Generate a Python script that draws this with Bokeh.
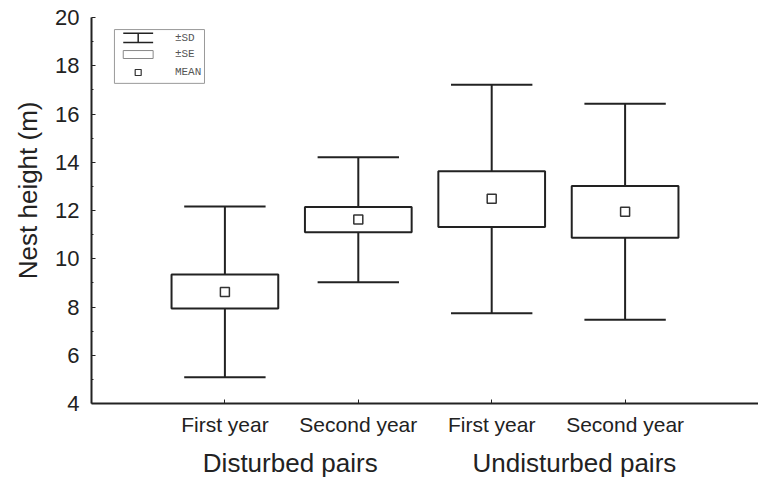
from bokeh.plotting import figure
from bokeh.models import Range1d, FixedTicker, LinearAxis, ColumnDataSource, Title
from bokeh.core.properties import value
from bokeh.embed import file_html
from bokeh.resources import INLINE

# ---- data ----
categories = ["First year", "Second year", "First year", "Second year"]
groups = ["Disturbed pairs", "Undisturbed pairs"]
mean = [8.62, 11.63, 12.49, 11.95]
se_low = [7.94, 11.10, 11.32, 10.87]
se_high = [9.35, 12.15, 13.63, 13.02]
sd_low = [5.09, 9.03, 7.74, 7.47]
sd_high = [12.17, 14.21, 17.21, 16.43]
y_major = [4, 6, 8, 10, 12, 14, 16, 18, 20]
y_minor = [5, 7, 9, 11, 13, 15, 17, 19]
legend_texts = ["\u00b1SD", "\u00b1SE", "MEAN"]

# ---- layout constants ----
BOX_W = 0.80
CAP_W = 0.61
INK = "#222222"
FONT = "Liberation Sans"

xs = [i + 1 for i in range(len(categories))]

p = figure(width=758, height=480, output_backend="svg", toolbar_location=None,
           x_range=Range1d(0, 5), y_range=Range1d(4, 20),
           min_border_left=91, min_border_right=0, min_border_top=17, min_border_bottom=76)
p.outline_line_color = None
p.xgrid.visible = False
p.ygrid.visible = False
p.background_fill_color = "white"
p.border_fill_color = "white"

src = ColumnDataSource(dict(
    x=xs, mean=mean, se_low=se_low, se_high=se_high, sd_low=sd_low, sd_high=sd_high,
    left=[x - BOX_W / 2 for x in xs], right=[x + BOX_W / 2 for x in xs],
    c0=[x - CAP_W / 2 for x in xs], c1=[x + CAP_W / 2 for x in xs],
))

# whiskers (±SD)
p.segment(x0="x", y0="sd_low", x1="x", y1="sd_high", source=src, line_color=INK, line_width=2)
p.segment(x0="c0", y0="sd_high", x1="c1", y1="sd_high", source=src, line_color=INK, line_width=2)
p.segment(x0="c0", y0="sd_low", x1="c1", y1="sd_low", source=src, line_color=INK, line_width=2)
# boxes (±SE)
p.quad(left="left", right="right", bottom="se_low", top="se_high", source=src,
       fill_color="white", line_color=INK, line_width=2)
# mean
p.scatter(x="x", y="mean", source=src, marker="square", size=9,
          fill_color="white", line_color="#333333", line_width=1.5)

# ---- legend (drawn) ----
p.quad(left=[0.172], right=[0.847], bottom=[17.27], top=[19.50],
       fill_color="white", line_color="#999999", line_width=1)
p.multi_line(xs=[[0.238, 0.462], [0.238, 0.462], [0.35, 0.35]],
             ys=[[19.35, 19.35], [18.96, 18.96], [19.35, 18.96]],
             line_color=INK, line_width=1.5)
p.quad(left=[0.238], right=[0.462], bottom=[18.30], top=[18.63],
       fill_color="white", line_color="#888888", line_width=1)
p.scatter(x=[0.35], y=[17.72], marker="square", size=6,
          fill_color="white", line_color="#333333", line_width=1.2)
p.text(x=[0.625, 0.625, 0.625], y=[19.15, 18.47, 17.75], text=legend_texts,
       text_font=value("Liberation Mono"), text_font_size="11px",
       text_color="#555555", text_baseline="middle", text_align="left")

# ---- axes ----
yax = p.yaxis[0]
yax.ticker = FixedTicker(ticks=y_major, minor_ticks=y_minor)
yax.major_tick_in = 4
yax.major_tick_out = 0
yax.minor_tick_in = 2
yax.minor_tick_out = 0
yax.major_label_standoff = 12
yax.major_label_text_font = FONT
yax.major_label_text_font_size = "22px"
yax.major_label_text_color = INK
yax.axis_line_width = 2
yax.axis_line_color = INK
yax.major_tick_line_color = INK
yax.minor_tick_line_color = INK

xax = p.xaxis[0]
xax.ticker = FixedTicker(ticks=xs, minor_ticks=[])
xax.major_label_overrides = {x: c for x, c in zip(xs, categories)}
xax.major_tick_in = 4
xax.major_tick_out = 0
xax.minor_tick_line_color = None
xax.major_label_standoff = 9
xax.major_label_text_font = FONT
xax.major_label_text_font_size = "21px"
xax.major_label_text_color = INK
xax.axis_line_width = 2
xax.axis_line_color = INK
xax.major_tick_line_color = INK

group_pos = [1.49, 3.62]
gax = LinearAxis(ticker=FixedTicker(ticks=group_pos, minor_ticks=[]))
gax.major_label_overrides = {g: t for g, t in zip(group_pos, groups)}
gax.axis_line_color = None
gax.major_tick_line_color = None
gax.minor_tick_line_color = None
gax.major_tick_out = 0
gax.major_tick_in = 0
gax.major_label_standoff = 9
gax.major_label_text_font = FONT
gax.major_label_text_font_size = "26px"
gax.major_label_text_color = INK
p.add_layout(gax, "below")

p.add_layout(Title(text="Nest height (m)", align="right", offset=84, standoff=19,
                   text_font=FONT, text_font_size="26px", text_font_style="normal",
                   text_color=INK), "left")

open("out.html", "w").write(file_html(p, INLINE))
